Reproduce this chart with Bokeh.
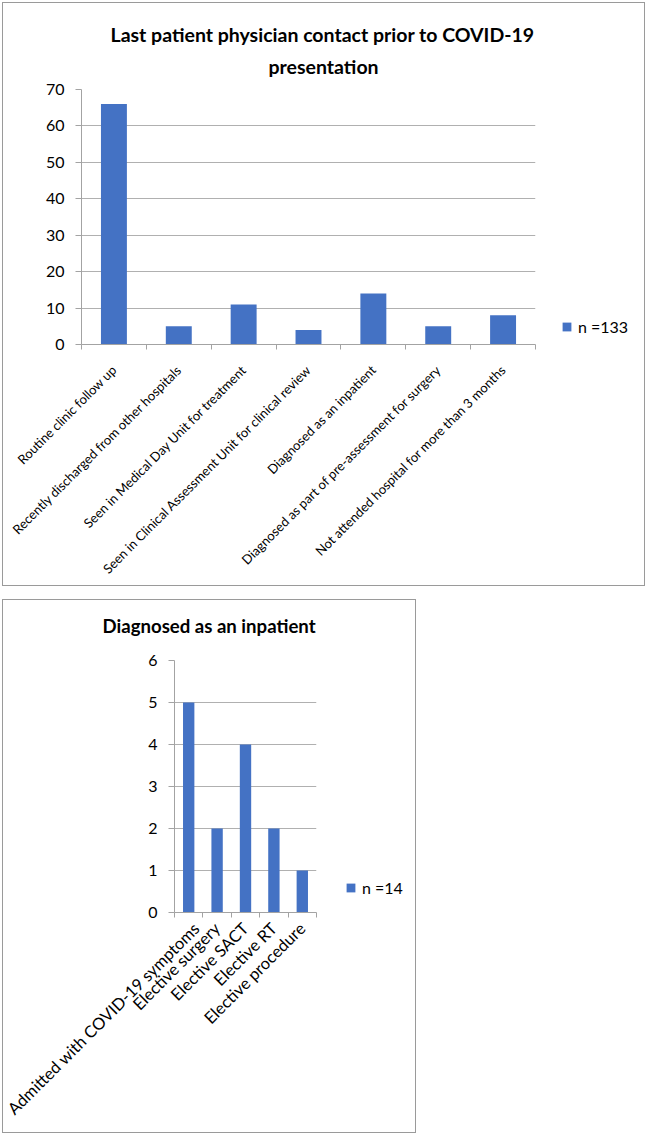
import math
from bokeh.plotting import figure
from bokeh.models import Range1d, FixedTicker, Title, Legend, LegendItem
from bokeh.layouts import column
from bokeh.embed import file_html
from bokeh.resources import INLINE

# ---------------- data ----------------
top_title_lines = ["Last patient physician contact prior to COVID-19", "presentation"]
top_categories = [
    "Routine clinic follow up",
    "Recently discharged from other hospitals",
    "Seen in Medical Day Unit for treatment",
    "Seen in Clinical Assessment Unit for clinical review",
    "Diagnosed as an inpatient",
    "Diagnosed as part of pre-assessment for surgery",
    "Not attended hospital for more than 3 months",
]
top_values = [66, 5, 11, 4, 14, 5, 8]
top_yticks = [0, 10, 20, 30, 40, 50, 60, 70]
top_legend = "n =133"

bottom_title = "Diagnosed as an inpatient"
bottom_categories = [
    "Admitted with COVID-19 symptoms",
    "Elective surgery",
    "Elective SACT",
    "Elective RT",
    "Elective procedure",
]
bottom_values = [5, 2, 4, 2, 1]
bottom_yticks = [0, 1, 2, 3, 4, 5, 6]
bottom_legend = "n =14"

FONT = "Lato"
BAR = "#4472C4"
GRID = "#b0b0b0"
AXIS = "#a3a3a3"
BORDER = "#9a9a9a"
TEXT = "#000000"


def make_chart(cats, vals, yticks, width, height, borders,
               tick_size, xlabel_size, x_standoff):
    n = len(cats)
    xs = list(range(1, n + 1))
    left, right, top, bottom = borders
    p = figure(width=width, height=height,
               x_range=Range1d(0.5, n + 0.5),
               y_range=Range1d(yticks[0], yticks[-1]),
               output_backend="svg", toolbar_location=None,
               min_border_left=left, min_border_right=right,
               min_border_top=top, min_border_bottom=bottom)
    p.outline_line_color = None
    p.background_fill_color = "white"
    p.border_fill_color = "white"

    p.vbar(x=xs, top=vals, width=0.4, fill_color=BAR, line_color=None)

    # x axis: labels at category centres, ticks at category boundaries
    xa = p.xaxis[0]
    xa.ticker = FixedTicker(ticks=xs, minor_ticks=[x - 0.5 for x in xs] + [n + 0.5])
    xa.major_label_overrides = {x: c for x, c in zip(xs, cats)}
    xa.major_label_orientation = math.pi / 4
    xa.major_tick_line_color = None
    xa.major_tick_out = 0
    xa.major_tick_in = 0
    xa.minor_tick_line_color = AXIS
    xa.minor_tick_out = 5
    xa.minor_tick_in = 0
    xa.axis_line_color = AXIS
    xa.major_label_text_font = FONT
    xa.major_label_text_font_size = xlabel_size
    xa.major_label_text_color = TEXT
    xa.major_label_standoff = x_standoff

    ya = p.yaxis[0]
    ya.ticker = FixedTicker(ticks=yticks, minor_ticks=[])
    ya.major_tick_line_color = AXIS
    ya.major_tick_out = 6
    ya.major_tick_in = 0
    ya.minor_tick_line_color = None
    ya.axis_line_color = AXIS
    ya.major_label_text_font = FONT
    ya.major_label_text_font_size = tick_size
    ya.major_label_text_color = TEXT
    ya.major_label_standoff = 11

    p.xgrid.grid_line_color = None
    p.ygrid.ticker = FixedTicker(ticks=yticks)
    p.ygrid.grid_line_color = GRID
    return p


def make_legend(vals, label, width, height, size):
    """Small transparent figure that only carries the series legend."""
    lf = figure(width=width, height=height, x_axis_type=None, y_axis_type=None,
                x_range=Range1d(0, 1), y_range=Range1d(0, 1),
                output_backend="svg", toolbar_location=None, min_border=0)
    lf.outline_line_color = None
    lf.background_fill_alpha = 0
    lf.border_fill_alpha = 0
    r = lf.vbar(x=list(range(len(vals))), top=vals, width=0.4,
                fill_color=BAR, line_color=None, visible=False)
    legend = Legend(items=[LegendItem(label=label, renderers=[r])],
                    location="top_left", padding=0, margin=0,
                    glyph_width=11, glyph_height=11, label_height=11,
                    label_standoff=6,
                    border_line_color=None, background_fill_alpha=0,
                    label_text_font=FONT, label_text_font_size=size,
                    label_text_color=TEXT)
    lf.add_layout(legend, "center")
    return lf


def add_title(p, text, size, offset, standoff, bold=True):
    p.add_layout(Title(text=text, align="left", offset=offset, standoff=standoff,
                       text_font=FONT, text_font_style="bold" if bold else "normal",
                       text_font_size=size, text_color=TEXT), "above")


def place(model, left, top, border=False):
    st = {"position": "absolute", "left": "%dpx" % left, "top": "%dpx" % top}
    if border:
        st["border"] = "1px solid " + BORDER
    return column(model, styles=st)


# ---------------- top chart ----------------
p1 = make_chart(top_categories, top_values, top_yticks,
                width=641, height=582, borders=(78, 109, 86, 241),
                tick_size="16px", xlabel_size="13px", x_standoff=18)
add_title(p1, " ", "2px", 0, 2, bold=False)          # small gap above the plot area
add_title(p1, top_title_lines[1], "19.5px", 187, 12)
add_title(p1, top_title_lines[0], "19.5px", 29, 1)
l1 = make_legend(top_values, top_legend, 75, 22, "16px")

# ---------------- bottom chart ----------------
p2 = make_chart(bottom_categories, bottom_values, bottom_yticks,
                width=412, height=532, borders=(171, 99, 60, 220),
                tick_size="16px", xlabel_size="16.5px", x_standoff=8)
add_title(p2, " ", "10px", 0, 9, bold=False)         # gap above the plot area
add_title(p2, bottom_title, "18.6px", -72, 2)
l2 = make_legend(bottom_values, bottom_legend, 60, 22, "16px")

roots = [place(p1, 2, 2, True), place(p2, 2, 599, True),
         place(l1, 561, 317), place(l2, 345, 878)]

open("out.html", "w").write(file_html(roots, INLINE))
